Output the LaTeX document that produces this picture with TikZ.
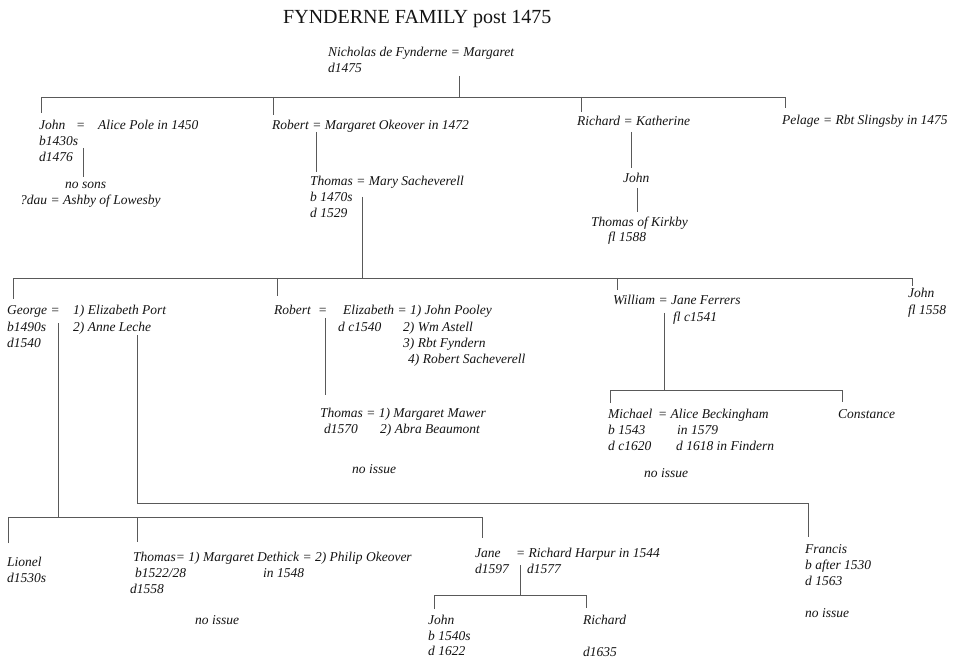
\documentclass[tikz,border=0pt]{standalone}
\usepackage{fontspec}
\setmainfont{Liberation Serif}
\newcommand\ftx[4]{\node[txt] (#1) at (#2,#3) {#4};}
\begin{document}
\begin{tikzpicture}[x=1pt,y=-1pt,
  txt/.style={anchor=base west, inner sep=0pt, text=black!92, font=\fontsize{13.5}{16}\selectfont\itshape},
  ttl/.style={anchor=base west, inner sep=0pt, text=black!92, font=\fontsize{20}{24}\selectfont},
  ln/.style={draw=black!65, line width=0.8pt}]
\useasboundingbox[fill=white] (0,0) rectangle (961,660);

% title
\node[ttl] (title) at (283,24) {FYNDERNE FAMILY post 1475};

% generation 0
\ftx{nich}{328}{57}{Nicholas de Fynderne = Margaret}
\ftx{nichd}{328}{73}{d1475}

% generation 1
\ftx{johnA}{39}{130}{John}
\ftx{johnAeq}{76}{130}{=}
\ftx{alice}{98}{130}{Alice Pole in 1450}
\ftx{johnAb}{39}{146}{b1430s}
\ftx{johnAd}{39}{162}{d1476}
\ftx{nosons}{65}{189}{no sons}
\ftx{dau}{20}{205}{?dau = Ashby of Lowesby}
\ftx{robA}{272}{130}{Robert = Margaret Okeover in 1472}
\ftx{thomA}{310}{186}{Thomas = Mary Sacheverell}
\ftx{thomAb}{310}{202}{b 1470s}
\ftx{thomAd}{310}{218}{d 1529}
\ftx{richA}{577}{126}{Richard = Katherine}
\ftx{johnK}{623}{183}{John}
\ftx{thomK}{591}{227}{Thomas of Kirkby}
\ftx{thomKf}{608}{242}{fl 1588}
\ftx{pelage}{782}{125}{Pelage = Rbt Slingsby in 1475}

% generation 2
\ftx{george}{7}{315}{George =}
\ftx{elizP}{73}{315}{1) Elizabeth Port}
\ftx{georgeb}{7}{331}{b1490s}
\ftx{anne}{73}{331}{2) Anne Leche}
\ftx{georged}{7}{347}{d1540}
\ftx{robB}{274}{315}{Robert}
\ftx{robBeq}{318}{315}{=}
\ftx{elizB}{343}{315}{Elizabeth = 1) John Pooley}
\ftx{elizBd}{338}{331}{d c1540}
\ftx{astell}{403}{331}{2) Wm Astell}
\ftx{fyndern}{403}{347}{3) Rbt Fyndern}
\ftx{sachev}{408}{363}{4) Robert Sacheverell}
\ftx{thomB}{320}{417}{Thomas = 1) Margaret Mawer}
\ftx{thomBd}{324}{433}{d1570}
\ftx{abra}{380}{433}{2) Abra Beaumont}
\ftx{noissueA}{352}{473}{no issue}
\ftx{william}{613}{305}{William = Jane Ferrers}
\ftx{janeF}{673}{321}{fl c1541}
\ftx{johnC}{908}{298}{John}
\ftx{johnCf}{908}{314}{fl 1558}

% generation 3 (William)
\ftx{michael}{608}{418}{Michael}
\ftx{aliceB}{658}{418}{= Alice Beckingham}
\ftx{michaelb}{608}{434}{b 1543}
\ftx{aliceBi}{677}{434}{in 1579}
\ftx{michaeld}{608}{450}{d c1620}
\ftx{aliceBd}{676}{450}{d 1618 in Findern}
\ftx{constance}{838}{418}{Constance}
\ftx{noissueB}{644}{477}{no issue}

% generation 3 (George)
\ftx{lionel}{7}{566}{Lionel}
\ftx{lioneld}{7}{582}{d1530s}
\ftx{thomC}{133}{561}{Thomas= 1) Margaret Dethick = 2) Philip Okeover}
\ftx{thomCb}{135}{577}{b1522/28}
\ftx{thomCi}{263}{577}{in 1548}
\ftx{thomCd}{130}{593}{d1558}
\ftx{noissueC}{195}{624}{no issue}
\ftx{jane}{475}{557}{Jane}
\ftx{harpur}{516}{557}{= Richard Harpur in 1544}
\ftx{janed}{475}{573}{d1597}
\ftx{harpurd}{527}{573}{d1577}
\ftx{johnJ}{428}{624}{John}
\ftx{johnJb}{428}{640}{b 1540s}
\ftx{johnJd}{428}{655}{d 1622}
\ftx{richJ}{583}{624}{Richard}
\ftx{richJd}{583}{656}{d1635}
\ftx{francis}{805}{553}{Francis}
\ftx{francisb}{805}{569}{b after 1530}
\ftx{francisd}{805}{585}{d 1563}
\ftx{noissueD}{805}{617}{no issue}

% connector coordinates
\coordinate (nA) at (459,76);   \coordinate (nB) at (459,97);
\coordinate (b1L) at (41,97);   \coordinate (b1R) at (785,97);
\coordinate (d1a) at (41,113);  \coordinate (d1b) at (273,97); \coordinate (d1bb) at (273,115);
\coordinate (d1c) at (581,97);  \coordinate (d1cc) at (581,112);
\coordinate (d1d) at (785,108);
\coordinate (jA) at (83,148);   \coordinate (jB) at (83,177);
\coordinate (rA) at (316,132);  \coordinate (rB) at (316,172);
\coordinate (kA) at (631,132);  \coordinate (kB) at (631,168);
\coordinate (kC) at (637,188);  \coordinate (kD) at (637,212);
\coordinate (tA) at (362,197);  \coordinate (tB) at (362,278);
\coordinate (b2L) at (13,278);  \coordinate (b2R) at (912,278);
\coordinate (d2a) at (13,299);
\coordinate (d2b) at (277,278); \coordinate (d2bb) at (277,296);
\coordinate (d2c) at (617,278); \coordinate (d2cc) at (617,290);
\coordinate (d2d) at (912,286);
\coordinate (gA) at (58,323);   \coordinate (gB) at (58,517);
\coordinate (aA) at (137,335);  \coordinate (aB) at (137,503);
\coordinate (aC) at (808,503);  \coordinate (aD) at (808,537);
\coordinate (eA) at (325,318);  \coordinate (eB) at (325,395);
\coordinate (wA) at (664,313);  \coordinate (wB) at (664,390);
\coordinate (b3L) at (610,390); \coordinate (b3R) at (842,390);
\coordinate (d3a) at (610,403); \coordinate (d3b) at (842,402);
\coordinate (b4L) at (8,517);   \coordinate (b4R) at (482,517);
\coordinate (d4a) at (8,543);
\coordinate (d4b) at (137,517); \coordinate (d4bb) at (137,542);
\coordinate (d4c) at (482,538);
\coordinate (jnA) at (520,565); \coordinate (jnB) at (520,595);
\coordinate (b5L) at (434,595); \coordinate (b5R) at (586,595);
\coordinate (d5a) at (434,609); \coordinate (d5b) at (586,608);

% connectors
\draw[ln] (nA) -- (nB);
\draw[ln] (d1a) -- (b1L) -- (b1R) -- (d1d);
\draw[ln] (d1b) -- (d1bb);
\draw[ln] (d1c) -- (d1cc);
\draw[ln] (jA) -- (jB);
\draw[ln] (rA) -- (rB);
\draw[ln] (kA) -- (kB);
\draw[ln] (kC) -- (kD);
\draw[ln] (tA) -- (tB);
\draw[ln] (d2a) -- (b2L) -- (b2R) -- (d2d);
\draw[ln] (d2b) -- (d2bb);
\draw[ln] (d2c) -- (d2cc);
\draw[ln] (gA) -- (gB);
\draw[ln] (aA) -- (aB) -- (aC) -- (aD);
\draw[ln] (eA) -- (eB);
\draw[ln] (wA) -- (wB);
\draw[ln] (d3a) -- (b3L) -- (b3R) -- (d3b);
\draw[ln] (d4a) -- (b4L) -- (b4R) -- (d4c);
\draw[ln] (d4b) -- (d4bb);
\draw[ln] (jnA) -- (jnB);
\draw[ln] (d5a) -- (b5L) -- (b5R) -- (d5b);
\end{tikzpicture}
\end{document}
